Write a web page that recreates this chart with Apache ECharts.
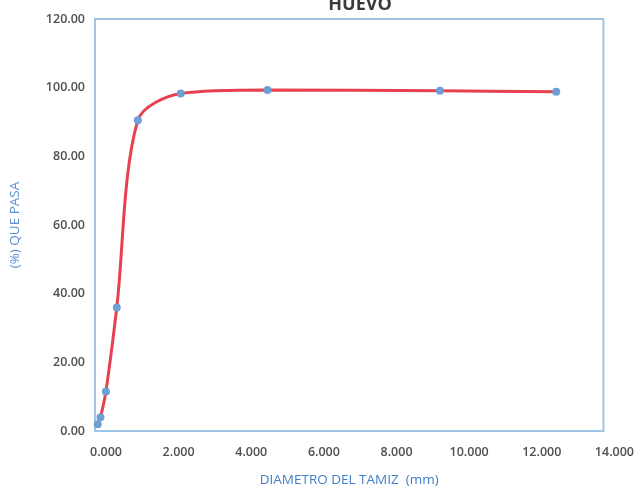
<!DOCTYPE html>
<html>
<head>
<meta charset="utf-8">
<script src="https://cdn.jsdelivr.net/npm/echarts@6/dist/echarts.min.js"></script>
<style>
  html, body { margin: 0; padding: 0; background: #fff; }
  #main { width: 637px; height: 493px; }
</style>
</head>
<body>
<div id="main"></div>
<script>
// abertura del tamiz (mm) y % que pasa
const diametros = [0.075, 0.15, 0.3, 0.6, 1.18, 2.36, 4.75, 9.5, 12.7];
const pasa = [2.0, 4.0, 11.5, 36.0, 90.5, 98.3, 99.3, 99.1, 98.8];

const xTicks = [0, 2, 4, 6, 8, 10, 12, 14];
const yTicks = [0, 20, 40, 60, 80, 100, 120];

const puntos = diametros.map((d, i) => [d, pasa[i]]);

const chart = echarts.init(document.getElementById('main'));

const labelFont = {
    color: '#4f4f4f',
    fontFamily: 'Open Sans',
    fontWeight: 600,
    fontSize: 12.5
};

chart.setOption({
    animation: false,
    title: {
        text: 'HUEVO',
        left: 355,
        top: -9,
        textAlign: 'center',
        textStyle: { fontFamily: 'Open Sans', fontWeight: 'bold', fontSize: 18, color: '#3a3a3a' }
    },
    grid: {
        left: 93, right: 30, top: 19, bottom: 62,
        show: true,
        borderColor: '#9fc4e4',
        borderWidth: 2,
        backgroundColor: 'transparent'
    },
    xAxis: {
        type: 'value',
        min: xTicks[0],
        max: xTicks[xTicks.length - 1],
        interval: 2,
        name: 'DIAMETRO DEL TAMIZ  (mm)',
        nameLocation: 'middle',
        nameGap: 42,
        nameTextStyle: { color: '#3f7fc8', fontFamily: 'Open Sans', fontSize: 13.5 },
        axisLine: { lineStyle: { color: '#9fc4e4', width: 2 } },
        axisTick: { show: false },
        splitLine: { show: false },
        axisLabel: Object.assign({}, labelFont, {
            margin: 15,
            padding: [0, 0, 0, 22],
            formatter: v => v.toFixed(3)
        })
    },
    yAxis: {
        type: 'value',
        min: yTicks[0],
        max: yTicks[yTicks.length - 1],
        interval: 20,
        name: '(%) QUE PASA',
        nameLocation: 'middle',
        nameGap: 73,
        nameTextStyle: { color: '#5b8fd0', fontFamily: 'Open Sans', fontSize: 13.5 },
        axisLine: { show: true, lineStyle: { color: '#9fc4e4', width: 2 } },
        axisTick: { show: false },
        splitLine: { show: false },
        axisLabel: Object.assign({}, labelFont, {
            margin: 10,
            formatter: v => v.toFixed(2)
        })
    },
    series: [{
        type: 'line',
        data: puntos,
        smooth: 0.3,
        symbol: 'circle',
        symbolSize: 8,
        lineStyle: { color: '#e8404e', width: 3 },
        itemStyle: { color: '#6c9fd3' },
        z: 3
    }]
});
</script>
</body>
</html>
